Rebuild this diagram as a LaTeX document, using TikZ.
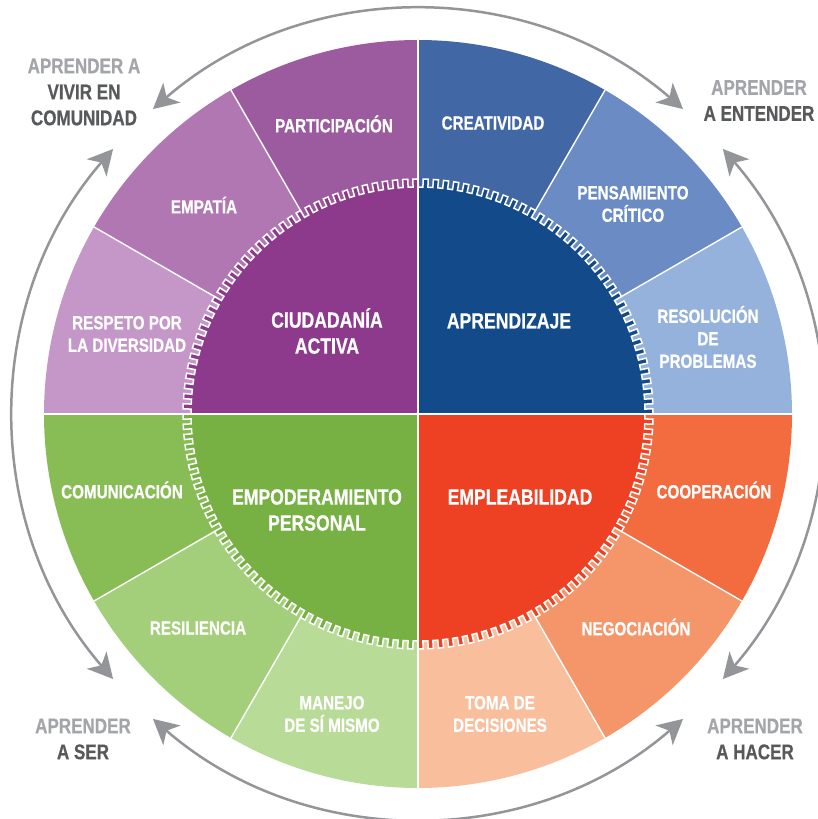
\documentclass[tikz,border=0pt]{standalone}
\usepackage{fontspec}
\setmainfont{Liberation Sans}[FakeStretch=0.8, BoldFeatures={FakeBold=0.6}]
\usetikzlibrary{arrows.meta}
\definecolor{pIn}{HTML}{8E3A8C}
\definecolor{pA}{HTML}{9C5B9E}
\definecolor{pB}{HTML}{B077B3}
\definecolor{pC}{HTML}{C596C8}
\definecolor{bIn}{HTML}{134B8A}
\definecolor{bA}{HTML}{4267A5}
\definecolor{bB}{HTML}{6A8BC3}
\definecolor{bC}{HTML}{95B2DD}
\definecolor{rIn}{HTML}{EE4123}
\definecolor{rA}{HTML}{F26C3F}
\definecolor{rB}{HTML}{F5956A}
\definecolor{rC}{HTML}{F9BE9B}
\definecolor{gIn}{HTML}{77B043}
\definecolor{gA}{HTML}{88BD56}
\definecolor{gB}{HTML}{A3CE7A}
\definecolor{gC}{HTML}{B8DB97}
\definecolor{arrowgray}{HTML}{939598}
\definecolor{lightgray}{HTML}{A3A5A8}
\definecolor{darkgray}{HTML}{58595B}
\newcommand\geartrace{(0:227pt) \foreach \i in {0,...,143}{ -- ({\i*2.5}:235pt) -- ({\i*2.5+1.25}:235pt) -- ({\i*2.5+1.25}:227pt) -- ({\i*2.5+2.5}:227pt)} -- cycle}
\newcommand\mywedge[3]{\fill[#3] (0,0) -- (#1:374pt) arc[start angle=#1, end angle=#2, radius=374pt] -- cycle;}
\newcommand\quadfill[2]{\begin{scope}\clip (0,0) -- (#1:390pt) arc[start angle=#1, end angle=#1+90, radius=390pt] -- cycle; \fill[#2] \geartrace; \end{scope}}
\tikzset{
  lbl/.style={text=white, font=\bfseries\fontsize{19}{22.5}\selectfont, align=center, inner sep=0pt},
  ctr/.style={text=white, font=\bfseries\fontsize{22}{26}\selectfont, align=center, inner sep=0pt},
  outer/.style={font=\bfseries\fontsize{21.3}{26}\selectfont, align=center, inner sep=0pt},
  divider/.style={draw=white, line width=1.4pt},
  axis/.style={draw=white, line width=2pt},
  tipstyle/.tip={Stealth[length=25pt,width=26pt,inset=7pt]},
  arcarrow/.style={draw=arrowgray, line width=2.5pt, tipstyle-tipstyle}
}
\begin{document}
\begin{tikzpicture}[x=1pt,y=1pt]
\useasboundingbox (-418,-405) rectangle (399,414);
% outer wedges
\mywedge{90}{120}{pA}
\mywedge{120}{150}{pB}
\mywedge{150}{180}{pC}
\mywedge{60}{90}{bA}
\mywedge{30}{60}{bB}
\mywedge{0}{30}{bC}
\mywedge{330}{360}{rA}
\mywedge{300}{330}{rB}
\mywedge{270}{300}{rC}
\mywedge{180}{210}{gA}
\mywedge{210}{240}{gB}
\mywedge{240}{270}{gC}
% inner gear quadrants
\quadfill{0}{bIn}
\quadfill{90}{pIn}
\quadfill{180}{gIn}
\quadfill{270}{rIn}
\draw[draw=white, line width=1.5pt] \geartrace;
% dividers
\foreach \a in {30,60,120,150,210,240,300,330}{
  \draw[divider] (\a:233pt) -- (\a:374pt);
}
\draw[axis] (180:374pt) -- (0:374pt);
\draw[axis] (90:374pt) -- (270:374pt);
% arrows
\draw[arcarrow] (49:404pt) arc[start angle=49, end angle=131, radius=404pt];
\draw[arcarrow] (139:404pt) arc[start angle=139, end angle=221, radius=404pt];
\draw[arcarrow] (229:404pt) arc[start angle=229, end angle=311, radius=404pt];
\draw[arcarrow] (319:404pt) arc[start angle=319, end angle=401, radius=404pt];
% centre labels
\node[ctr] (ciud) at (-91,83) {CIUDADANÍA\\ACTIVA};
\node[ctr] (apr) at (91,93) {APRENDIZAJE};
\node[ctr] (empo) at (-101,-96) {EMPODERAMIENTO\\PERSONAL};
\node[ctr] (empl) at (102,-83) {EMPLEABILIDAD};
% wedge labels
\node[lbl] (part) at (-84,290) {PARTICIPACIÓN};
\node[lbl] (empa) at (-214,209) {EMPATÍA};
\node[lbl] (resp) at (-291,80) {RESPETO POR\\LA DIVERSIDAD};
\node[lbl] (crea) at (75,291) {CREATIVIDAD};
\node[lbl] (pens) at (215,210) {PENSAMIENTO\\CRÍTICO};
\node[lbl] (reso) at (290,77) {RESOLUCIÓN\\DE\\PROBLEMAS};
\node[lbl] (comu) at (-296,-76) {COMUNICACIÓN};
\node[lbl] (resi) at (-220,-214) {RESILIENCIA};
\node[lbl] (mane) at (-86,-300) {MANEJO\\DE SÍ MISMO};
\node[lbl] (coop) at (296,-76) {COOPERACIÓN};
\node[lbl] (nego) at (218,-213) {NEGOCIACIÓN};
\node[lbl] (toma) at (82,-300) {TOMA DE\\DECISIONES};
% outer labels
\node[outer] (vivir) at (-334,322) {\textcolor{lightgray}{APRENDER A}\\\textcolor{darkgray}{VIVIR EN}\\\textcolor{darkgray}{COMUNIDAD}};
\node[outer] (entender) at (341,313.5) {\textcolor{lightgray}{APRENDER}\\\textcolor{darkgray}{A ENTENDER}};
\node[outer] (ser) at (-335,-325) {\textcolor{lightgray}{APRENDER}\\\textcolor{darkgray}{A SER}};
\node[outer] (hacer) at (337,-325) {\textcolor{lightgray}{APRENDER}\\\textcolor{darkgray}{A HACER}};
\end{tikzpicture}
\end{document}
